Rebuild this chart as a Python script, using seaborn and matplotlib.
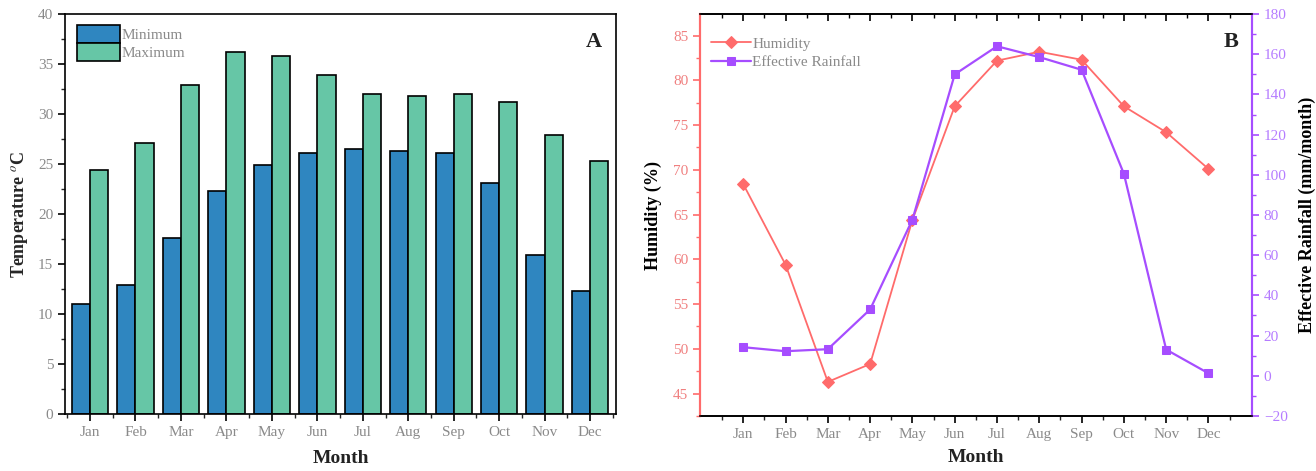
import numpy as np
import pandas as pd
import matplotlib
matplotlib.use("Agg")
import matplotlib.pyplot as plt
import seaborn as sns
from matplotlib.ticker import MultipleLocator, FixedLocator

months = ["Jan", "Feb", "Mar", "Apr", "May", "Jun", "Jul", "Aug", "Sep", "Oct", "Nov", "Dec"]
temp_min = [11.0, 12.9, 17.6, 22.3, 24.9, 26.1, 26.5, 26.3, 26.1, 23.1, 15.9, 12.3]
temp_max = [24.4, 27.1, 32.9, 36.2, 35.8, 33.9, 32.0, 31.8, 32.0, 31.2, 27.9, 25.3]
humidity = [68.4, 59.4, 46.3, 48.3, 64.4, 77.1, 82.2, 83.2, 82.3, 77.1, 74.2, 70.1]
rainfall = [14.2, 12.2, 13.2, 33.0, 77.7, 150.0, 164.0, 158.6, 152.3, 100.5, 13.0, 1.2]

sns.set_theme(style="white")
plt.rcParams["font.family"] = ["Liberation Serif", "DejaVu Serif"]
plt.rcParams["mathtext.fontset"] = "stix"

fig = plt.figure(figsize=(13.16, 4.71), dpi=100)
axA = fig.add_axes([0.0494, 0.121, 0.4187, 0.849])
axB = fig.add_axes([0.532, 0.117, 0.4194, 0.853])

gray = "#8a8a8a"
c_min = "#2f86c0"
c_max = "#66c6a6"
c_hum = "#ff6b6b"
c_rain = "#a64dff"

# Panel A
dfA = pd.DataFrame({
    "Month": months * 2,
    "Temp": temp_min + temp_max,
    "Type": ["Minimum"] * 12 + ["Maximum"] * 12,
})
sns.barplot(data=dfA, x="Month", y="Temp", hue="Type", order=months,
            hue_order=["Minimum", "Maximum"], palette=[c_min, c_max],
            width=0.8, edgecolor="black", linewidth=1.2, saturation=1, ax=axA)
axA.set_xlim(-0.55, 11.57)
axA.set_ylim(0, 40)
axA.yaxis.set_major_locator(MultipleLocator(5))
axA.yaxis.set_minor_locator(MultipleLocator(2.5))
axA.xaxis.set_minor_locator(FixedLocator(np.arange(-0.5, 12, 1)))
axA.tick_params(axis="both", which="major", direction="out", length=5, width=1.2,
                colors="black", labelcolor=gray, labelsize=11, bottom=True, left=True)
axA.tick_params(axis="both", which="minor", direction="out", length=3, width=1.0,
                bottom=True, left=True)
for s in axA.spines.values():
    s.set_color("black")
    s.set_linewidth(1.2)
axA.set_xlabel("Month", fontsize=14, fontweight="bold", color="#222222", labelpad=8)
axA.set_ylabel("Temperature $^{o}$C", fontsize=13, fontweight="bold", labelpad=6)
axA.text(0.975, 0.955, "A", transform=axA.transAxes, ha="right", va="top",
         fontsize=16, fontweight="bold", color="#222222")
leg = axA.legend(loc="upper left", bbox_to_anchor=(0.005, 0.995), frameon=False,
                 fontsize=11, handlelength=2.8, handleheight=1.4, labelspacing=0.0,
                 handletextpad=0.1, borderaxespad=0.2)
for t in leg.get_texts():
    t.set_color(gray)

# Panel B
dfB = pd.DataFrame({"x": np.arange(12), "Humidity": humidity, "Rain": rainfall})
axB2 = axB.twinx()
sns.lineplot(data=dfB, x="x", y="Humidity", color=c_hum, marker="D", markersize=6,
             markeredgecolor=c_hum, linewidth=1.3, ax=axB, label="Humidity", legend=False)
sns.lineplot(data=dfB, x="x", y="Rain", color=c_rain, marker="s", markersize=5.5,
             markeredgecolor=c_rain, linewidth=1.6, ax=axB2, label="Effective Rainfall", legend=False)
axB.set_xlim(-1.02, 12.03)
axB.set_ylim(42.5, 87.4)
axB2.set_ylim(-20, 180)
axB.set_xticks(np.arange(12))
axB.set_xticklabels(months)
axB.xaxis.set_minor_locator(FixedLocator(np.arange(-0.5, 12.5, 1)))
axB.yaxis.set_major_locator(MultipleLocator(5))
axB.yaxis.set_minor_locator(MultipleLocator(2.5))
axB2.yaxis.set_major_locator(MultipleLocator(20))
axB2.yaxis.set_minor_locator(MultipleLocator(10))

axB.tick_params(axis="x", which="major", direction="out", length=5, width=1.2,
                colors="black", labelcolor=gray, labelsize=11, bottom=True, top=False)
axB.tick_params(axis="x", which="minor", direction="out", length=3, width=1.0,
                bottom=True, top=False)
axB.tick_params(axis="y", which="major", direction="out", length=5, width=1.2,
                colors=c_hum, labelcolor="#f08080", labelsize=11, left=True)
axB.tick_params(axis="y", which="minor", direction="out", length=3, width=1.0,
                colors=c_hum, left=True)
axB2.tick_params(axis="y", which="major", direction="out", length=5, width=1.2,
                 colors=c_rain, labelcolor="#b57cff", labelsize=11, right=True)
axB2.tick_params(axis="y", which="minor", direction="out", length=3, width=1.0,
                 colors=c_rain, right=True)
axB2.xaxis.set_visible(False)
# top ticks pointing inward
secx = axB.secondary_xaxis("top")
secx.set_xticks(np.arange(12))
secx.xaxis.set_minor_locator(FixedLocator(np.arange(-0.5, 12.5, 1)))
secx.tick_params(axis="x", which="major", direction="in", length=5, width=1.2,
                 labeltop=False, colors="black")
secx.tick_params(axis="x", which="minor", direction="in", length=3, width=1.0, colors="black")
secx.spines["top"].set_visible(False)

for ax in (axB, axB2):
    ax.spines["top"].set_color("black")
    ax.spines["bottom"].set_color("black")
    ax.spines["top"].set_linewidth(1.2)
    ax.spines["bottom"].set_linewidth(1.2)
    ax.spines["left"].set_color(c_hum)
    ax.spines["right"].set_color(c_rain)
    ax.spines["left"].set_linewidth(1.5)
    ax.spines["right"].set_linewidth(1.5)

axB.set_xlabel("Month", fontsize=14, fontweight="bold", color="#222222", labelpad=6)
axB.set_ylabel("Humidity (%)", fontsize=13, fontweight="bold", color="black", labelpad=8)
axB2.set_ylabel("Effective Rainfall (mm/month)", fontsize=13, fontweight="bold",
                color="black", labelpad=8)
axB.text(0.975, 0.955, "B", transform=axB.transAxes, ha="right", va="top",
         fontsize=16, fontweight="bold", color="#222222")

h1, l1 = axB.get_legend_handles_labels()
h2, l2 = axB2.get_legend_handles_labels()
legB = axB.legend(h1 + h2, l1 + l2, loc="upper left", bbox_to_anchor=(0.0, 0.97),
                  frameon=False, fontsize=11, handlelength=2.6, labelspacing=0.3,
                  handletextpad=0.1, borderaxespad=0.3)
for t in legB.get_texts():
    t.set_color(gray)

fig.savefig("out.png", dpi=100)
